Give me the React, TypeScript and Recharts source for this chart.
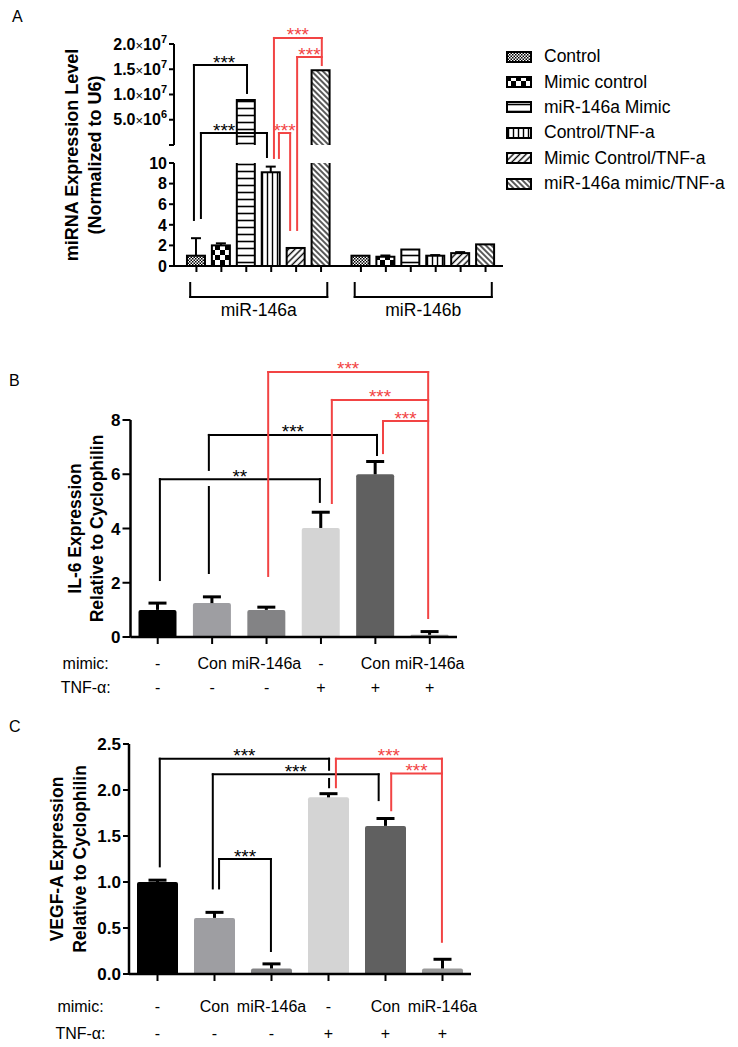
import React from 'react';
import { BarChart, Bar, XAxis, YAxis, ErrorBar, Cell, ReferenceLine, ReferenceDot, Legend } from 'recharts';

const FONT = '"Liberation Sans", Arial, Helvetica, sans-serif';
const RED = '#f24444';
const BLACK = '#000000';

// ---------------- Panel A : miRNA expression (broken y axis) ----------------
const treatmentNames = ['Control', 'Mimic control', 'miR-146a Mimic', 'Control/TNF-a', 'Mimic Control/TNF-a', 'miR-146a mimic/TNF-a'];
const mirnaGroups = ['miR-146a', 'miR-146b'];
const mir146aMeans = [1.0, 2.0, 8.9e6, 9.1, 1.75, 1.48e7];
const mir146aSD = [1.7, 0.2, 0, 0.55, 0, 0];
const mir146bMeans = [1.0, 0.9, 1.6, 1.0, 1.25, 2.1];
const mir146bSD = [0, 0.12, 0, 0.06, 0.1, 0];
const aLowerTicks = [0, 2, 4, 6, 8, 10];
const aUpperTicks = [5e6, 1e7, 1.5e7, 2e7];
const aUpperMantissa = ['5.0', '1.0', '1.5', '2.0'];
const aUpperExponent = ['6', '7', '7', '7'];

// ---------------- Panels B & C ----------------
const conditionMimic = ['-', 'Con', 'miR-146a', '-', 'Con', 'miR-146a'];
const conditionTnf = ['-', '-', '-', '+', '+', '+'];
const il6Means = [1.0, 1.25, 1.0, 4.02, 6.0, 0.08];
const il6SD = [0.25, 0.23, 0.1, 0.58, 0.47, 0.12];
const il6Ticks = [0, 2, 4, 6, 8];
const vegfMeans = [1.0, 0.61, 0.06, 1.92, 1.61, 0.06];
const vegfSD = [0.02, 0.06, 0.05, 0.04, 0.08, 0.1];
const vegfTicks = [0, 0.5, 1, 1.5, 2, 2.5];
const conditionColors = ['#000000', '#9e9ea2', '#838385', '#d4d4d4', '#606060', '#9a9a9a'];

// significance brackets: x in bar units, y in axis units
type Bracket = { x1: number; x2: number; top: number; leftEnd: number; rightEnd: number; text: string; red?: boolean; tx?: number; leftGap?: [number, number]; rightGap?: [number, number] };

const aBrackets: Bracket[] = [
  { x1: 0.9, x2: 3.03, top: 19.51, leftEnd: 4.47, rightEnd: 16.8, text: '***', tx: 2.11 },
  { x1: 1.18, x2: 3.83, top: 12.91, leftEnd: 4.66, rightEnd: 10.58, text: '***', tx: 2.11 },
  { x1: 4.31, x2: 4.76, top: 12.91, leftEnd: 10.49, rightEnd: 3.5, text: '***', red: true },
  { x1: 4.11, x2: 6.03, top: 22.14, leftEnd: 10.49, rightEnd: 19.51, text: '***', red: true },
  { x1: 5.04, x2: 6.03, top: 20.29, leftEnd: 3.5, rightEnd: 20.29, text: '***', red: true },
];
const bBrackets: Bracket[] = [
  { x1: 1.04, x2: 3.98, top: 5.82, leftEnd: 2.1, rightEnd: 4.98, text: '**' },
  { x1: 1.94, x2: 5.03, top: 7.45, leftEnd: 2.36, rightEnd: 6.71, text: '***', leftGap: [5.53, 6.16] },
  { x1: 3.03, x2: 5.97, top: 9.77, leftEnd: 2.25, rightEnd: 0.7, text: '***', red: true },
  { x1: 4.2, x2: 5.97, top: 8.74, leftEnd: 4.94, rightEnd: 8.74, text: '***', red: true },
  { x1: 5.14, x2: 5.97, top: 7.96, leftEnd: 6.78, rightEnd: 7.96, text: '***', red: true },
];
const cBrackets: Bracket[] = [
  { x1: 1.04, x2: 4.01, top: 2.34, leftEnd: 1.17, rightEnd: 2.03, text: '***', rightGap: [2.12, 2.22] },
  { x1: 1.97, x2: 4.88, top: 2.17, leftEnd: 0.93, rightEnd: 1.89, text: '***' },
  { x1: 2.08, x2: 2.99, top: 1.25, leftEnd: 0.93, rightEnd: 0.25, text: '***' },
  { x1: 4.13, x2: 5.99, top: 2.34, leftEnd: 2.03, rightEnd: 0.35, text: '***', red: true },
  { x1: 5.1, x2: 5.99, top: 2.18, leftEnd: 1.78, rightEnd: 2.18, text: '***', red: true },
];

// ---------------- broken-axis transform for panel A ----------------
const BREAK_LOW = 10;
const BREAK_HIGH = 11.75;
const UPPER_PER_UNIT = 2.04e6;
const toDisplay = (v: number) => (v <= BREAK_LOW ? v : BREAK_HIGH + v / UPPER_PER_UNIT);
const A_TOP = toDisplay(2e7);
const A_XMIN = 0.1;
const A_XMAX = 13.3;
const GROUP_STEP = 6.6;

const aRows = mirnaGroups.flatMap((g, gi) => {
  const means = gi === 0 ? mir146aMeans : mir146bMeans;
  const sds = gi === 0 ? mir146aSD : mir146bSD;
  return treatmentNames.map((t, ti) => ({
    x: gi * GROUP_STEP + ti + 1,
    group: g,
    treatment: t,
    ti,
    mean: means[ti],
    disp: toDisplay(means[ti]),
    broken: means[ti] > BREAK_LOW,
    err: sds[ti] > 0 ? [0, sds[ti]] : undefined,
  }));
});
const aYTicks = [...aLowerTicks, BREAK_HIGH, ...aUpperTicks.map(toDisplay)];

const makeRows = (means: number[], sds: number[]) =>
  means.map((m, i) => ({ x: i + 1, v: m, e: [0, sds[i]], mimic: conditionMimic[i], tnf: conditionTnf[i] }));
const bRows = makeRows(il6Means, il6SD);
const cRows = makeRows(vegfMeans, vegfSD);

// ---------------- helpers ----------------
const PatternDefs = () => (
  <svg width={0} height={0} style={{ position: 'absolute', left: 0, top: 0 }}>
    <defs>
      <pattern id="pat0" width={3} height={3} patternUnits="userSpaceOnUse">
        <rect width={3} height={3} fill="#fff" />
        <rect width={1.5} height={1.5} fill="#000" />
        <rect x={1.5} y={1.5} width={1.5} height={1.5} fill="#000" />
      </pattern>
      <pattern id="pat1" width={10} height={10} patternUnits="userSpaceOnUse">
        <rect width={10} height={10} fill="#fff" />
        <rect width={5} height={5} fill="#000" />
        <rect x={5} y={5} width={5} height={5} fill="#000" />
      </pattern>
      <pattern id="pat2" width={7} height={7} patternUnits="userSpaceOnUse">
        <rect width={7} height={7} fill="#fff" />
        <line x1={0} y1={3.5} x2={7} y2={3.5} stroke="#000" strokeWidth={1.6} />
      </pattern>
      <pattern id="pat3" width={5} height={5} patternUnits="userSpaceOnUse">
        <rect width={5} height={5} fill="#fff" />
        <line x1={2.5} y1={0} x2={2.5} y2={5} stroke="#000" strokeWidth={1.4} />
      </pattern>
      <pattern id="pat4" width={4.5} height={4.5} patternUnits="userSpaceOnUse" patternTransform="rotate(45)">
        <rect width={4.5} height={4.5} fill="#fff" />
        <line x1={2.25} y1={0} x2={2.25} y2={4.5} stroke="#000" strokeWidth={1.4} />
      </pattern>
      <pattern id="pat5" width={4} height={4} patternUnits="userSpaceOnUse" patternTransform="rotate(-45)">
        <rect width={4} height={4} fill="#fff" />
        <line x1={2} y1={0} x2={2} y2={4} stroke="#000" strokeWidth={1.3} />
      </pattern>
    </defs>
  </svg>
);

const PatternBar = (props: any) => {
  const { x, y, width, height, payload } = props;
  if (width == null || height == null || !payload) return <g />;
  const fill = `url(#pat${payload.ti})`;
  if (!payload.broken) {
    return <rect x={x} y={y} width={width} height={height} fill={fill} stroke="#000" strokeWidth={2} />;
  }
  const base = y + height;
  const ppu = height / payload.disp;
  const yLowTop = base - BREAK_LOW * ppu;
  const yUpBot = base - BREAK_HIGH * ppu;
  return (
    <g>
      <rect x={x} y={yLowTop} width={width} height={base - yLowTop} fill={fill} />
      <rect x={x} y={y} width={width} height={yUpBot - y} fill={fill} />
      <path
        d={`M${x},${yLowTop} V${base} H${x + width} V${yLowTop} M${x},${yUpBot} V${y} H${x + width} V${yUpBot}`}
        fill="none"
        stroke="#000"
        strokeWidth={2}
      />
    </g>
  );
};

const ATick = (props: any) => {
  const { x, y, payload } = props;
  const v = payload.value;
  const li = aLowerTicks.findIndex((t) => Math.abs(t - v) < 1e-9);
  if (li >= 0) {
    return (
      <text x={x} y={y} dy="0.36em" fontSize={16} fontWeight="bold" fontFamily={FONT} fill="#000" textAnchor="end">
        {aLowerTicks[li]}
      </text>
    );
  }
  const ui = aUpperTicks.findIndex((t) => Math.abs(toDisplay(t) - v) < 1e-9);
  if (ui >= 0) {
    return (
      <text x={x} y={y} dy="0.36em" fontSize={16} fontWeight="bold" fontFamily={FONT} fill="#000" textAnchor="end">
        <tspan>{aUpperMantissa[ui]}</tspan>
        <tspan fontWeight="normal" fontSize={13}>×</tspan>
        <tspan>10</tspan>
        <tspan fontSize={11} dy="-0.65em">{aUpperExponent[ui]}</tspan>
      </text>
    );
  }
  return <g />;
};

const EmptyTick = () => <g />;

const AxisTitle = (props: any) => {
  const { viewBox, lines, d1, d2, size } = props;
  if (!viewBox) return null;
  const axisX = viewBox.x + viewBox.width;
  const cy = viewBox.y + viewBox.height / 2;
  return (
    <g>
      {lines.map((t: string, i: number) => {
        const bx = axisX - (i === 0 ? d1 : d2);
        return (
          <text key={t} x={bx} y={cy} transform={`rotate(-90 ${bx} ${cy})`} textAnchor="middle" fontWeight="bold" fontSize={size} fontFamily={FONT} fill="#000">
            {t}
          </text>
        );
      })}
    </g>
  );
};

const ALegend = () => (
  <div style={{ fontFamily: FONT, fontSize: 17.5, color: '#000' }}>
    {treatmentNames.map((t, i) => (
      <div key={t} style={{ display: 'flex', alignItems: 'center', height: 25.4, whiteSpace: 'nowrap' }}>
        <svg width={26} height={12} style={{ marginRight: 12, flex: 'none' }}>
          <rect x={1} y={1} width={24} height={10} fill={`url(#pat${i})`} stroke="#000" strokeWidth={2} />
        </svg>
        <span>{t}</span>
      </div>
    ))}
  </div>
);

const makeRowTick = (mimicDy: number, tnfDy: number, headerDx: number) => (props: any) => {
  const { x, y, payload } = props;
  const idx = Math.round(payload.value) - 1;
  return (
    <g fontFamily={FONT} fontSize={16} fill="#000">
      <text x={x} y={y + mimicDy} textAnchor="middle">{conditionMimic[idx]}</text>
      <text x={x} y={y + tnfDy} textAnchor="middle">{conditionTnf[idx]}</text>
      {idx === 0 && (
        <>
          <text x={x - headerDx} y={y + mimicDy} textAnchor="middle">mimic:</text>
          <text x={x - headerDx} y={y + tnfDy} textAnchor="middle">TNF-α:</text>
        </>
      )}
    </g>
  );
};
const BTick = makeRowTick(24.7, 48.7, 72);
const CTick = makeRowTick(30.7, 57.7, 77);

const renderBrackets = (list: Bracket[], prefix: string) =>
  list.flatMap((b, i) => {
    const color = b.red ? RED : BLACK;
    const segs: [number, number, number, number][] = [[b.x1, b.top, b.x2, b.top]];
    const leg = (x: number, end: number, gap?: [number, number]) => {
      if (Math.abs(end - b.top) < 1e-9) return;
      if (gap) {
        segs.push([x, b.top, x, gap[1]]);
        segs.push([x, gap[0], x, end]);
      } else {
        segs.push([x, b.top, x, end]);
      }
    };
    leg(b.x1, b.leftEnd, b.leftGap);
    leg(b.x2, b.rightEnd, b.rightGap);
    const lines = segs.map((s, j) => (
      <ReferenceLine
        key={`${prefix}${i}-${j}`}
        segment={[{ x: s[0], y: s[1] }, { x: s[2], y: s[3] }]}
        stroke={color}
        strokeWidth={2}
        strokeLinecap="square"
        ifOverflow="visible"
      />
    ));
    return [
      ...lines,
      <ReferenceDot
        key={`${prefix}${i}-t`}
        x={b.tx ?? (b.x1 + b.x2) / 2}
        y={b.top}
        r={0}
        fill="none"
        stroke="none"
        ifOverflow="visible"
        label={{ value: b.text, position: 'top', offset: -3.5, fill: color, fontSize: 19, fontFamily: FONT }}
      />,
    ];
  });

const groupBrackets = () =>
  mirnaGroups.flatMap((g, gi) => {
    const c = gi * GROUP_STEP + 3.5;
    const l = c - 2.75;
    const r = c + 2.75;
    return [
      <ReferenceLine key={`g${gi}a`} segment={[{ x: l, y: -1.65 }, { x: l, y: -3.0 }]} stroke="#000" strokeWidth={2} strokeLinecap="square" ifOverflow="visible" />,
      <ReferenceLine key={`g${gi}b`} segment={[{ x: l, y: -3.0 }, { x: r, y: -3.0 }]} stroke="#000" strokeWidth={2} strokeLinecap="square" ifOverflow="visible" />,
      <ReferenceLine key={`g${gi}c`} segment={[{ x: r, y: -3.0 }, { x: r, y: -1.65 }]} stroke="#000" strokeWidth={2} strokeLinecap="square" ifOverflow="visible" />,
      <ReferenceDot
        key={`g${gi}t`}
        x={c}
        y={-4.27}
        r={0}
        fill="none"
        stroke="none"
        ifOverflow="visible"
        label={{ value: g, position: 'center', fill: '#000', fontSize: 17.5, fontFamily: FONT }}
      />,
    ];
  });

const PanelLetter = ({ text, left, top }: { text: string; left: number; top: number }) => (
  <div style={{ position: 'absolute', left, top, fontFamily: FONT, fontSize: 16, lineHeight: '16px', color: '#000' }}>{text}</div>
);

const axisLineStyle = { stroke: '#000', strokeWidth: 2.5 };
const tickLineStyle = { stroke: '#000', strokeWidth: 2 };
const bcTickFont = { fontSize: 17, fontWeight: 'bold', fill: '#000', fontFamily: FONT };

export default function App() {
  return (
    <div style={{ position: 'absolute', left: 0, top: 0, width: 738, height: 1047, background: '#fff', overflow: 'hidden' }}>
      <style>{'.recharts-errorBar line:nth-of-type(3){display:none}'}</style>
      <PatternDefs />

      {/* Panel A */}
      <div style={{ position: 'absolute', left: 0, top: 0 }}>
        <BarChart width={738} height={330} data={aRows} margin={{ top: 44, right: 235, bottom: 44, left: 114 }}>
          <XAxis
            type="number"
            dataKey="x"
            domain={[A_XMIN, A_XMAX]}
            ticks={aRows.map((r) => r.x)}
            interval={0}
            tick={EmptyTick}
            tickSize={6}
            height={20}
            axisLine={{ stroke: '#000', strokeWidth: 2 }}
            tickLine={tickLineStyle}
          />
          <YAxis
            type="number"
            domain={[0, A_TOP]}
            ticks={aYTicks}
            interval={0}
            tick={ATick}
            tickSize={5}
            tickMargin={2}
            width={60}
            axisLine={false}
            tickLine={tickLineStyle}
            label={{ content: (p: any) => <AxisTitle viewBox={p.viewBox} lines={['miRNA Expression Level', '(Normalized to U6)']} d1={95.7} d2={72.7} size={18} /> }}
          />
          <ReferenceLine segment={[{ x: A_XMIN, y: 0 }, { x: A_XMIN, y: BREAK_LOW }]} stroke="#000" strokeWidth={2} ifOverflow="visible" />
          <ReferenceLine segment={[{ x: A_XMIN, y: BREAK_HIGH }, { x: A_XMIN, y: A_TOP }]} stroke="#000" strokeWidth={2} ifOverflow="visible" />
          <Bar dataKey="disp" barSize={18} isAnimationActive={false} shape={PatternBar}>
            <ErrorBar dataKey="err" width={5} strokeWidth={2} stroke="#000" direction="y" />
          </Bar>
          {renderBrackets(aBrackets, 'a')}
          {groupBrackets()}
          <Legend
            content={<ALegend />}
            layout="vertical"
            align="center"
            verticalAlign="middle"
            wrapperStyle={{ left: 506, top: 44, width: 232 }}
          />
        </BarChart>
      </div>

      {/* Panel B */}
      <div style={{ position: 'absolute', left: 0, top: 330 }}>
        <BarChart width={738} height={380} data={bRows} margin={{ top: 90, right: 281, bottom: 13, left: 80.5 }}>
          <XAxis
            type="number"
            dataKey="x"
            domain={[0.5, 6.5]}
            ticks={[1, 2, 3, 4, 5, 6]}
            interval={0}
            tick={BTick}
            tickSize={7}
            tickMargin={0}
            height={60}
            axisLine={axisLineStyle}
            tickLine={tickLineStyle}
          />
          <YAxis
            type="number"
            domain={[0, 8]}
            ticks={il6Ticks}
            interval={0}
            tick={bcTickFont}
            tickSize={8}
            tickMargin={2}
            width={50}
            axisLine={axisLineStyle}
            tickLine={tickLineStyle}
            label={{ content: (p: any) => <AxisTitle viewBox={p.viewBox} lines={['IL-6 Expression', 'Relative to Cyclophilin']} d1={49.5} d2={27.5} size={17.5} /> }}
          />
          <Bar dataKey="v" barSize={38} radius={[2, 2, 0, 0]} isAnimationActive={false}>
            {bRows.map((r, i) => (
              <Cell key={r.x} fill={conditionColors[i]} />
            ))}
            <ErrorBar dataKey="e" width={9} strokeWidth={3} stroke="#000" direction="y" />
          </Bar>
          {renderBrackets(bBrackets, 'b')}
        </BarChart>
      </div>

      {/* Panel C */}
      <div style={{ position: 'absolute', left: 0, top: 710 }}>
        <BarChart width={738} height={337} data={cRows} margin={{ top: 34, right: 267, bottom: 8, left: 74 }}>
          <XAxis
            type="number"
            dataKey="x"
            domain={[0.5, 6.5]}
            ticks={[1, 2, 3, 4, 5, 6]}
            interval={0}
            tick={CTick}
            tickSize={7}
            tickMargin={0}
            height={65}
            axisLine={axisLineStyle}
            tickLine={tickLineStyle}
          />
          <YAxis
            type="number"
            domain={[0, 2.5]}
            ticks={vegfTicks}
            interval={0}
            tickFormatter={(v: number) => v.toFixed(1)}
            tick={bcTickFont}
            tickSize={6}
            tickMargin={2}
            width={55}
            axisLine={axisLineStyle}
            tickLine={tickLineStyle}
            label={{ content: (p: any) => <AxisTitle viewBox={p.viewBox} lines={['VEGF-A Expression', 'Relative to Cyclophilin']} d1={66} d2={43} size={17.5} /> }}
          />
          <Bar dataKey="v" barSize={41} radius={[2, 2, 0, 0]} isAnimationActive={false}>
            {cRows.map((r, i) => (
              <Cell key={r.x} fill={conditionColors[i]} />
            ))}
            <ErrorBar dataKey="e" width={9} strokeWidth={3} stroke="#000" direction="y" />
          </Bar>
          {renderBrackets(cBrackets, 'c')}
        </BarChart>
      </div>

      <PanelLetter text="A" left={12} top={9} />
      <PanelLetter text="B" left={9} top={373} />
      <PanelLetter text="C" left={9} top={719} />
    </div>
  );
}
